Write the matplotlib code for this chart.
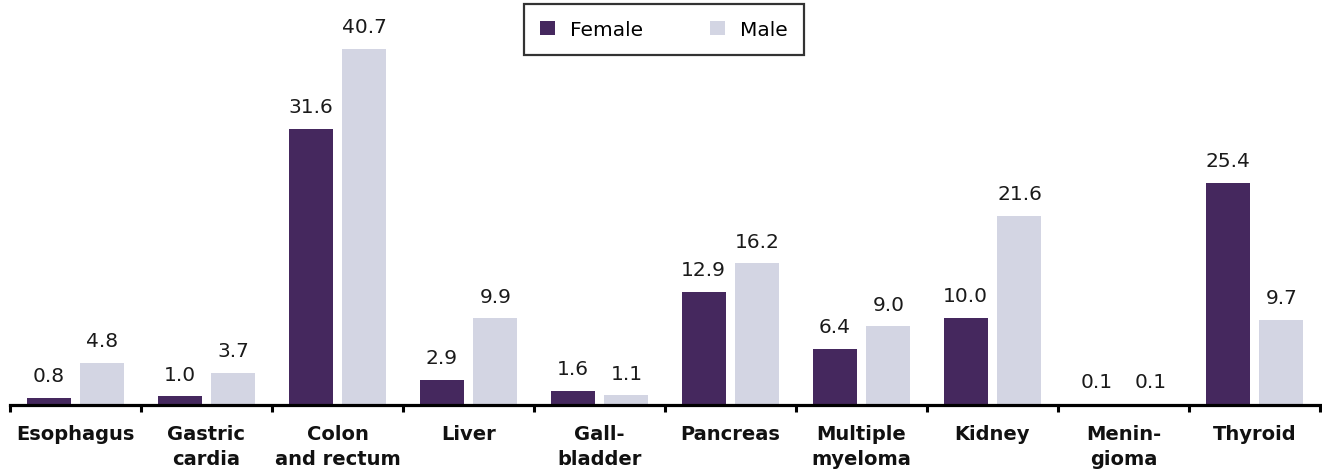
import matplotlib
matplotlib.use("Agg")
import matplotlib.pyplot as plt
from matplotlib.patches import Patch
import numpy as np

plt.rcParams['font.family'] = ['DejaVu Sans']

categories = ["Esophagus", "Gastric\ncardia", "Colon\nand rectum", "Liver", "Gall-\nbladder",
              "Pancreas", "Multiple\nmyeloma", "Kidney", "Menin-\ngioma", "Thyroid"]
female = [0.8, 1.0, 31.6, 2.9, 1.6, 12.9, 6.4, 10.0, 0.1, 25.4]
male = [4.8, 3.7, 40.7, 9.9, 1.1, 16.2, 9.0, 21.6, 0.1, 9.7]
series_names = ["Female", "Male"]

female_color = "#45285e"
male_color = "#d3d5e3"

W, H = 1322, 477
fig = plt.figure(figsize=(W / 100, H / 100), dpi=100)
ax = fig.add_axes([10 / W, 1 - 406 / H, 1310 / W, 406 / H])

centers = np.arange(len(categories)) + 0.5
offset = 0.206
width = 0.336

bars_f = ax.bar(centers - offset, female, width, color=female_color)
bars_m = ax.bar(centers + offset, male, width, color=male_color)

for bars, vals in ((bars_f, female), (bars_m, male)):
    for b, v in zip(bars, vals):
        ax.annotate(f"{v:.1f}", (b.get_x() + b.get_width() / 2, v),
                    xytext=(0, 12), textcoords="offset points",
                    ha="center", va="baseline", fontsize=14.5, color="#1a1a1a")

ax.set_xlim(0, len(categories))
ax.set_ylim(0, 46.4)

for s in ("left", "right", "top"):
    ax.spines[s].set_visible(False)
ax.spines["bottom"].set_linewidth(2.3)
ax.spines["bottom"].set_color("black")
ax.set_yticks([])

ax.set_xticks(np.arange(len(categories) + 1))
ax.set_xticklabels([])
ax.tick_params(axis="x", which="major", length=5, width=2.2, direction="out", color="black")
ax.set_xticks(centers, minor=True)
ax.set_xticklabels(categories, minor=True, fontsize=14, fontweight="bold",
                   linespacing=1.38, color="#111111")
ax.tick_params(axis="x", which="minor", length=0, pad=14)

handles = [Patch(facecolor=female_color), Patch(facecolor=male_color)]
leg = fig.legend(handles, series_names, loc="upper left",
                 bbox_to_anchor=(524 / W, 1 - 5 / H), ncol=2, fontsize=14.5,
                 frameon=True, fancybox=False, borderaxespad=0,
                 handlelength=0.75, handleheight=0.75, handletextpad=0.75,
                 columnspacing=3.3, borderpad=0.8)
leg.get_frame().set_edgecolor("black")
leg.get_frame().set_linewidth(1.6)

fig.savefig("out.png", dpi=100)
